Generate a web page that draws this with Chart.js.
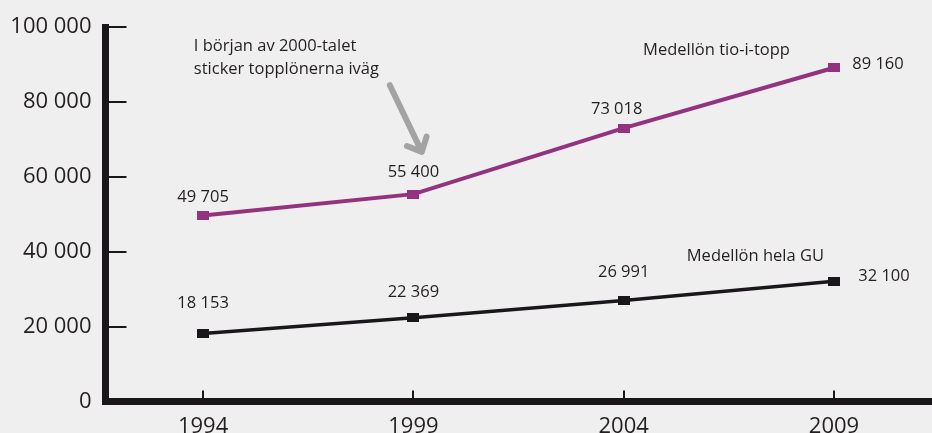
<!DOCTYPE html>
<html>
<head>
<meta charset="utf-8">
<script src="https://cdn.jsdelivr.net/npm/chart.js@4"></script>
<style>
html, body { margin: 0; padding: 0; background: #efefef; overflow: hidden; }
#wrap { width: 932px; height: 433px; }
</style>
</head>
<body>
<div id="wrap"><canvas id="chart"></canvas></div>
<script>
// Data
const years = [1994, 1999, 2004, 2009];
const topTenSalary = [49705, 55400, 73018, 89160];
const allGuSalary = [18153, 22369, 26991, 32100];
const yTicks = [0, 20000, 40000, 60000, 80000, 100000];
const topTenName = 'Medellön tio-i-topp';
const allGuName = 'Medellön hela GU';
const noteLines = ['I början av 2000-talet', 'sticker topplönerna iväg'];

const FONT = "'Open Sans', 'Noto Sans', sans-serif";
const INK = '#231f20';
const PURPLE = '#93337f';
const BLACK = '#1a171b';

// thousands separated by a space, Swedish style
function fmt(n) {
    return String(n).replace(/\B(?=(\d{3})+(?!\d))/g, ' ');
}

// small flat rectangle used as point marker
function makeMarker(color) {
    const c = document.createElement('canvas');
    c.width = 12;
    c.height = 9;
    const g = c.getContext('2d');
    g.fillStyle = color;
    g.fillRect(0, 0, 12, 9);
    return c;
}

// tick marks drawn inside the axes, value labels, series names, note and arrow
const decorations = {
    id: 'decorations',
    afterDatasetsDraw(chart) {
        const { ctx, chartArea } = chart;
        const x = chart.scales.x;
        const y = chart.scales.y;
        ctx.save();

        // y tick marks pointing right
        ctx.strokeStyle = BLACK;
        ctx.lineWidth = 2;
        yTicks.forEach(v => {
            const py = Math.round(y.getPixelForValue(v));
            ctx.beginPath();
            ctx.moveTo(chartArea.left, py);
            ctx.lineTo(chartArea.left + 21, py);
            ctx.stroke();
        });
        // x tick marks pointing up
        years.forEach(v => {
            const px = Math.round(x.getPixelForValue(v));
            ctx.beginPath();
            ctx.moveTo(px, chartArea.bottom);
            ctx.lineTo(px, chartArea.bottom - 11);
            ctx.stroke();
        });

        // value labels
        ctx.fillStyle = INK;
        ctx.font = '16.5px ' + FONT;
        ctx.textAlign = 'center';
        ctx.textBaseline = 'middle';
        const series = [topTenSalary, allGuSalary];
        const offsets = [
            [[0, -18], [0, -22], [-7, -19], [44, -3]],
            [[0, -30], [0, -25], [0, -28], [50, -5]]
        ];
        series.forEach((vals, i) => {
            vals.forEach((v, j) => {
                const px = x.getPixelForValue(years[j]);
                const py = y.getPixelForValue(v);
                ctx.fillText(fmt(v), px + offsets[i][j][0], py + offsets[i][j][1]);
            });
        });

        // series names and note
        ctx.textAlign = 'left';
        ctx.fillText(topTenName, x.getPixelForValue(2004.46), y.getPixelForValue(93800));
        ctx.fillText(allGuName, x.getPixelForValue(2005.5), y.getPixelForValue(38800));
        const noteX = x.getPixelForValue(1993.78);
        const noteY = y.getPixelForValue(94870);
        noteLines.forEach((t, i) => ctx.fillText(t, noteX, noteY + i * 23));

        // gray arrow
        const sx = x.getPixelForValue(1998.44), sy = y.getPixelForValue(84500);
        const tx = x.getPixelForValue(1999.2), ty = y.getPixelForValue(66700);
        const ang = Math.atan2(sy - ty, sx - tx);
        ctx.strokeStyle = '#a3a3a3';
        ctx.lineWidth = 6;
        ctx.lineCap = 'round';
        ctx.lineJoin = 'round';
        ctx.beginPath();
        ctx.moveTo(sx, sy);
        ctx.lineTo(tx, ty);
        ctx.moveTo(tx + 16 * Math.cos(ang - 0.75), ty + 16 * Math.sin(ang - 0.75));
        ctx.lineTo(tx, ty);
        ctx.lineTo(tx + 16 * Math.cos(ang + 0.75), ty + 16 * Math.sin(ang + 0.75));
        ctx.stroke();

        ctx.restore();
    }
};

new Chart(document.getElementById('chart'), {
    type: 'line',
    data: {
        datasets: [
            {
                label: topTenName,
                data: topTenSalary.map((v, i) => ({ x: years[i], y: v })),
                borderColor: PURPLE,
                backgroundColor: PURPLE,
                borderWidth: 4,
                pointStyle: makeMarker(PURPLE),
                tension: 0,
                clip: false
            },
            {
                label: allGuName,
                data: allGuSalary.map((v, i) => ({ x: years[i], y: v })),
                borderColor: BLACK,
                backgroundColor: BLACK,
                borderWidth: 3.5,
                pointStyle: makeMarker(BLACK),
                tension: 0,
                clip: false
            }
        ]
    },
    options: {
        responsive: true,
        maintainAspectRatio: false,
        animation: false,
        devicePixelRatio: 1,
        layout: { autoPadding: false, padding: { top: 26, left: 0, right: 0, bottom: 0 } },
        plugins: {
            legend: { display: false },
            tooltip: { enabled: false }
        },
        scales: {
            x: {
                type: 'linear',
                min: 1991.68,
                max: 2011.33,
                afterBuildTicks: s => { s.ticks = years.map(v => ({ value: v })); },
                afterFit: s => { s.height = 31.5; s.paddingLeft = 0; s.paddingRight = 0; },
                grid: { drawOnChartArea: false, drawTicks: false, color: 'rgba(0,0,0,0)' },
                border: { display: true, width: 7, color: BLACK },
                ticks: {
                    autoSkip: false,
                    maxRotation: 0,
                    padding: 12,
                    color: INK,
                    font: { family: FONT, size: 22 },
                    callback: v => String(v)
                }
            },
            y: {
                min: 0,
                max: 100000,
                afterBuildTicks: s => { s.ticks = yTicks.map(v => ({ value: v })); },
                afterFit: s => { s.width = 105.5; },
                grid: { drawOnChartArea: false, drawTicks: false, color: 'rgba(0,0,0,0)' },
                border: { display: true, width: 7, color: BLACK },
                ticks: {
                    padding: 14,
                    color: INK,
                    font: { family: FONT, size: 22 },
                    callback: v => fmt(v)
                }
            }
        }
    },
    plugins: [decorations]
});
</script>
</body>
</html>
